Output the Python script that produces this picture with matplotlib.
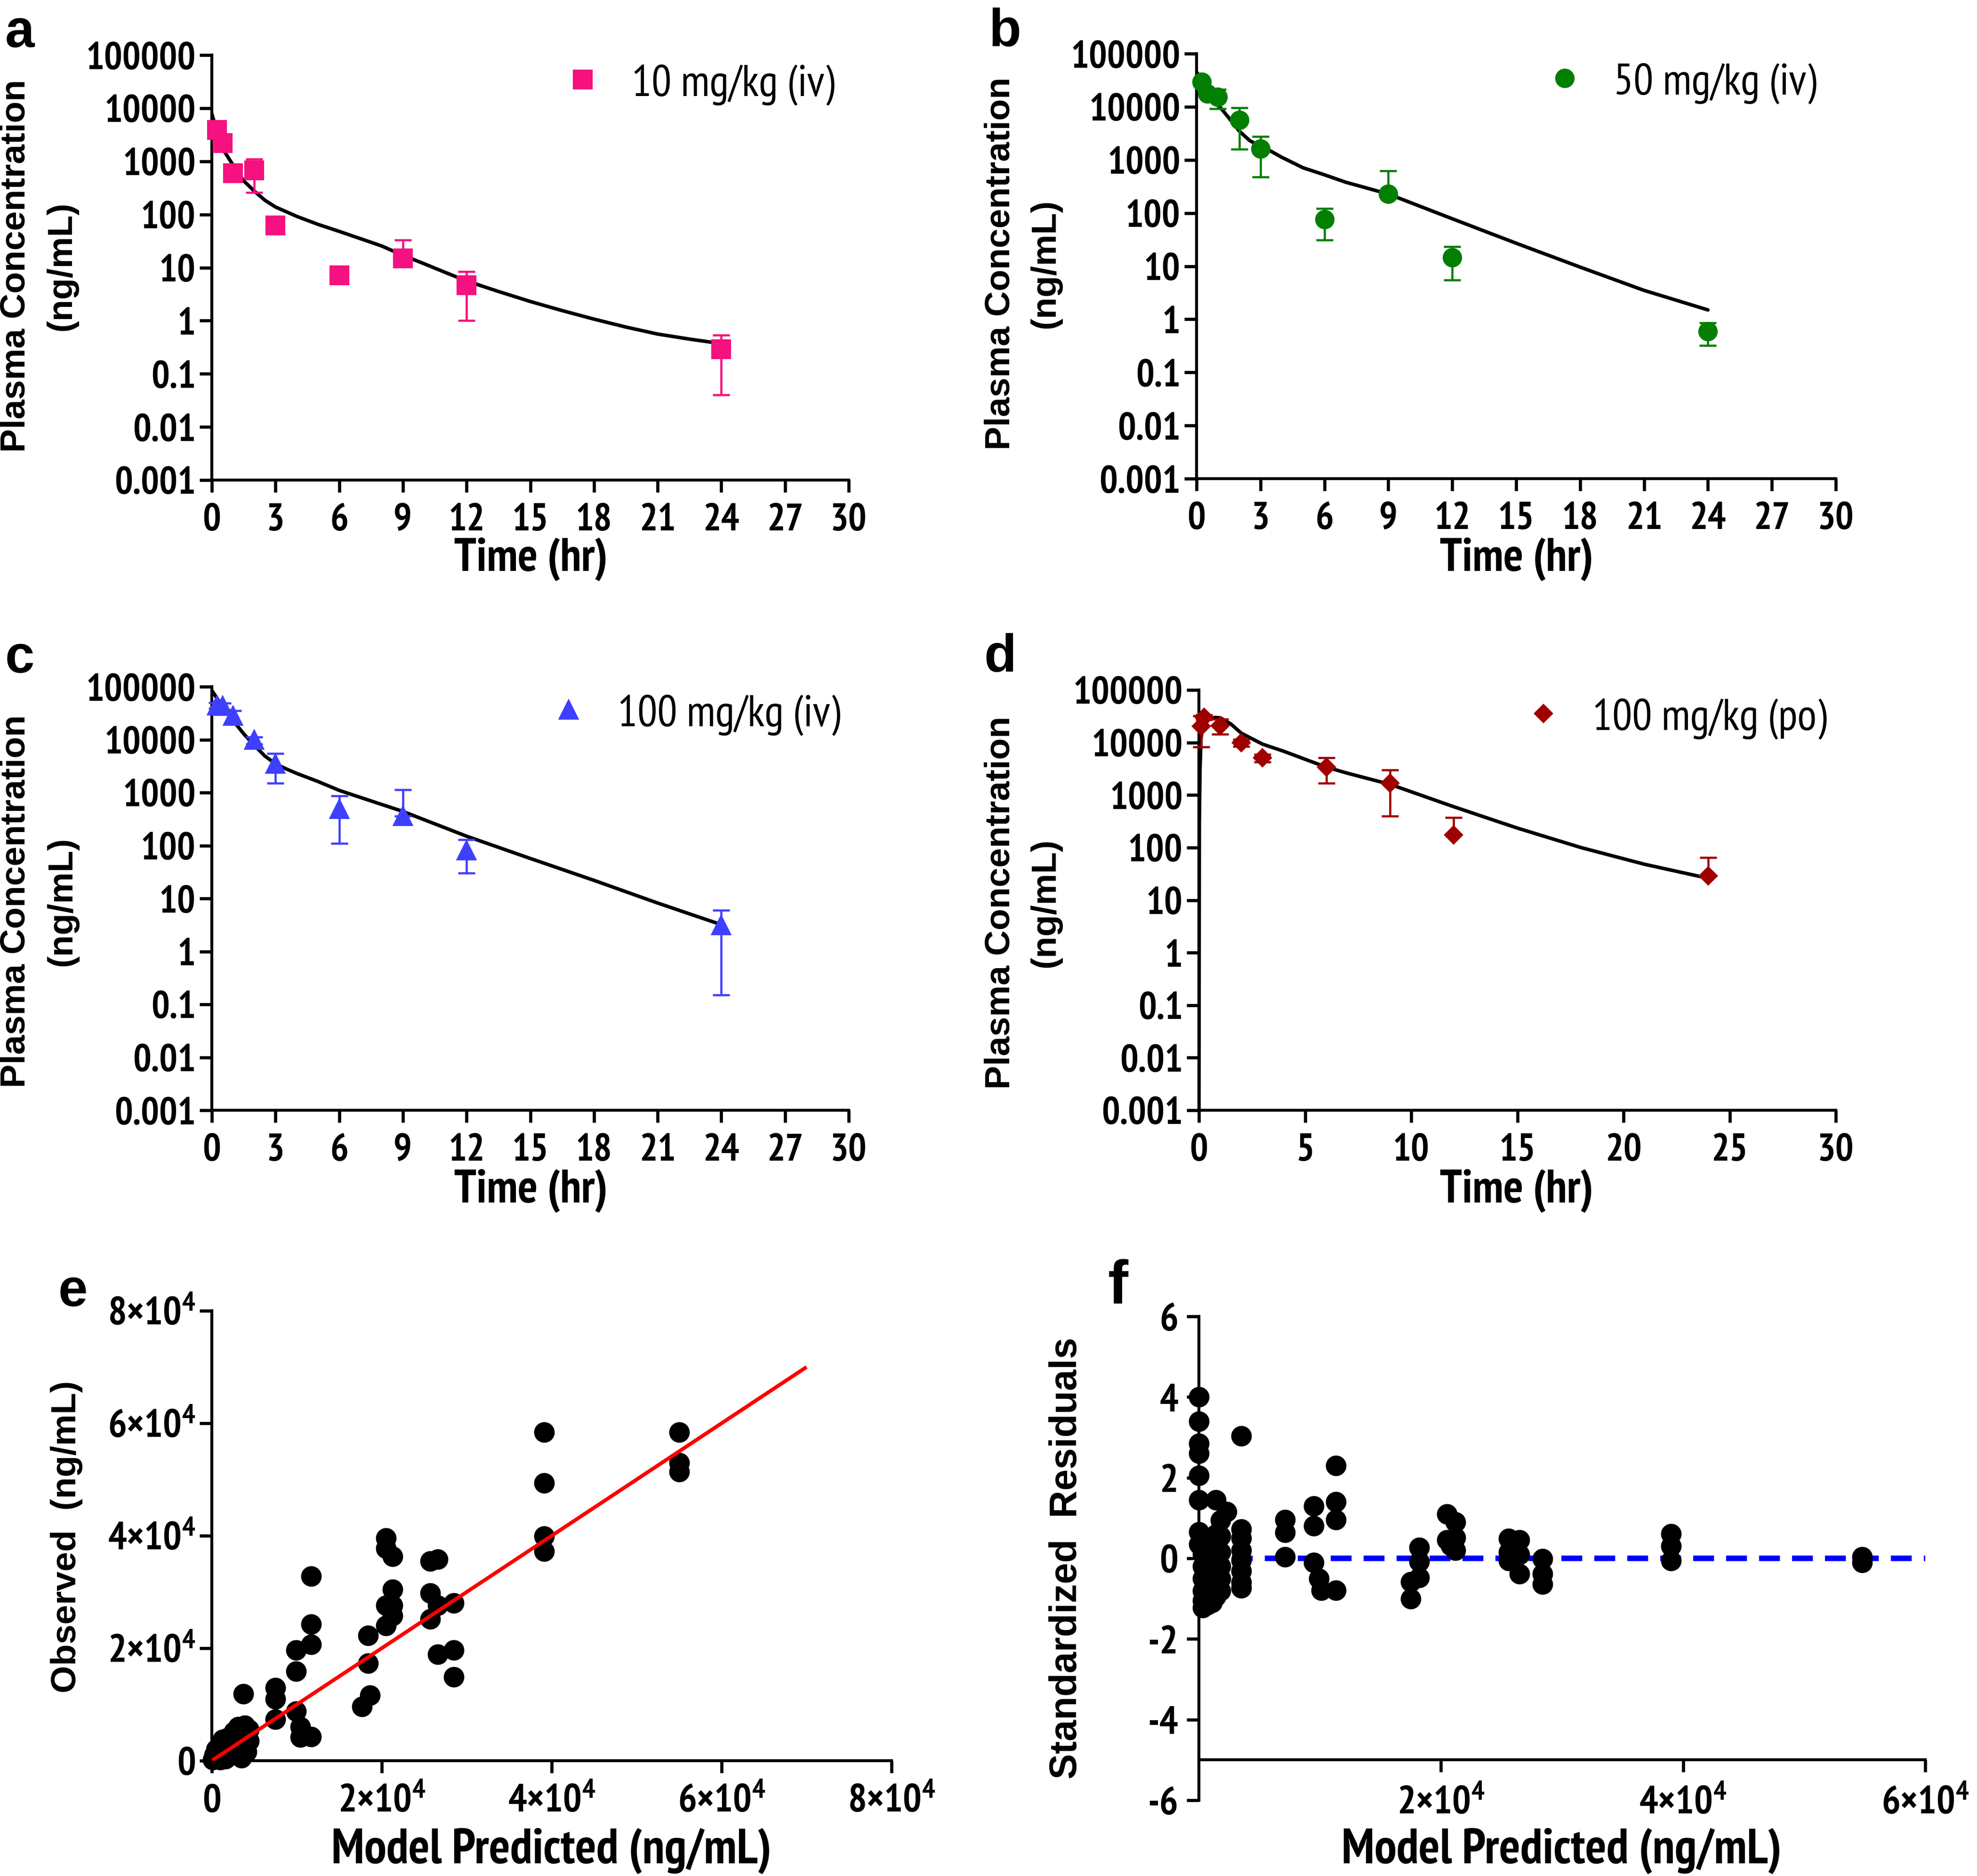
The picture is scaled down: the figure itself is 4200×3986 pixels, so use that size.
import numpy as np
import matplotlib
matplotlib.use("Agg")
import matplotlib.pyplot as plt
from matplotlib.lines import Line2D
from matplotlib.ticker import NullLocator
from matplotlib import font_manager as fm

# ---------------- data ----------------
# panel a : 10 mg/kg iv
t_a = [0.25, 0.5, 1, 2, 3, 6, 9, 12, 24]
c_a = [3900, 2200, 600, 680, 62, 7.2, 15, 4.7, 0.29]
sd_a = [600, 400, 90, 420, 10, 1.0, 18, 3.7, 0.25]
mt_a = [0, 0.25, 0.5, 1, 1.5, 2, 2.5, 3, 4, 5, 6, 7, 8, 9, 10, 11, 12, 13.5, 15, 16.5, 18, 19.5, 21, 22.5, 24]
mc_a = [7800, 3600, 1750, 850, 430, 275, 185, 138, 92, 65, 48, 35, 25.5, 17, 11.8, 8.1, 5.6, 3.55, 2.3, 1.55, 1.07, 0.76, 0.56, 0.45, 0.37]

# panel b : 50 mg/kg iv
t_b = [0.25, 0.5, 1, 2, 3, 6, 9, 12, 24]
c_b = [29600, 17800, 15200, 5600, 1630, 76, 228, 14.5, 0.59]
sd_b = [3000, 2500, 6100, 4000, 1150, 45, 400, 9, 0.27]
mt_b = [0, 0.25, 0.5, 1, 1.5, 2, 2.5, 3, 3.5, 4, 5, 6, 7, 9, 12, 15, 18, 21, 24]
mc_b = [45000, 33000, 22000, 11000, 6300, 3500, 2300, 1800, 1450, 1120, 710, 525, 380, 228, 78, 27, 9.6, 3.5, 1.5]

# panel c : 100 mg/kg iv
t_c = [0.25, 0.5, 1, 2, 3, 6, 9, 12, 24]
c_c = [44400, 43000, 28300, 9800, 3500, 490, 360, 80, 3.1]
sd_c = [5000, 6000, 7200, 1500, 2000, 380, 770, 50, 2.95]
mt_c = [0, 0.25, 0.5, 1, 1.5, 2, 2.5, 3, 3.5, 4, 5, 6, 7, 9, 12, 15, 18, 21, 24]
mc_c = [85000, 60000, 42000, 23000, 12900, 7800, 4900, 3500, 2800, 2300, 1620, 1100, 810, 440, 150, 57, 22, 8.2, 3.2]

# panel d : 100 mg/kg po
t_d = [0.1, 0.25, 1, 2, 3, 6, 9, 12, 24]
c_d = [20300, 30500, 21000, 10000, 5100, 3400, 1700, 175, 29]
sd_d = [12000, 3000, 6700, 1500, 800, 1700, 1300, 200, 36]
mt_d = [0, 0.02, 0.05, 0.1, 0.17, 0.25, 0.5, 0.75, 1, 1.5, 2, 2.5, 3, 4, 5, 6, 7, 9, 12, 15, 18, 21, 24]
mc_d = [0.001, 300, 3000, 12000, 19000, 23000, 28000, 30000, 29500, 22600, 15000, 11800, 9300, 6800, 4800, 3400, 2600, 1600, 600, 235, 100, 48, 26]

# panel e : observed vs predicted (x 1e4 ng/mL)
e_pred = [0.39, 0.26, 0.13, 0.39, 0.39, 0.41, 0.28, 0.16, 0.05, 0.01, 0.20, 0.31, 0.44, 0.44,
          0.08, 0.12, 0.22, 0.33, 0.03, 0.18, 0.35, 0.10,
          0.37, 0.75, 0.75, 0.75, 0.99, 0.99, 0.99, 1.04, 1.04,
          1.17, 1.17, 1.17, 1.17, 1.77, 1.84, 1.84, 1.86,
          2.05, 2.05, 2.05, 2.05, 2.13, 2.13, 2.13, 2.13,
          2.57, 2.57, 2.57, 2.66, 2.66, 2.66, 2.85, 2.85, 2.85,
          3.91, 3.91, 3.91, 3.91, 5.50, 5.50, 5.50]
e_obs = [0.63, 0.52, 0.38, 0.43, 0.24, 0.16, 0.10, 0.03, 0.20, 0.02, 0.27, 0.60, 0.35, 0.55,
         0.08, 0.12, 0.18, 0.30, 0.10, 0.40, 0.05, 0.02,
         1.19, 1.30, 1.10, 0.74, 1.97, 1.59, 0.88, 0.60, 0.42,
         3.28, 2.43, 2.07, 0.43, 0.96, 2.23, 1.73, 1.16,
         3.96, 3.77, 2.76, 2.40, 3.63, 3.05, 2.76, 2.58,
         3.55, 2.98, 2.52, 3.58, 2.76, 1.89, 2.80, 1.97, 1.49,
         5.84, 4.94, 3.99, 3.72, 5.84, 5.30, 5.14]
identity_x = [0, 7.0]
identity_y = [0, 7.0]

# panel f : standardized residuals vs predicted (x 1e4 ng/mL)
f_pred = [0.00] * 8 + [0.03] * 6 + [0.07] * 7 + [0.11] * 6 + [0.14] * 7 + [0.18] * 6 + [0.23] + [0.35] * 8 + \
         [0.71, 0.71, 0.71, 0.95, 0.95, 0.95, 0.99, 1.01, 1.13, 1.13, 1.13, 1.13,
          1.75, 1.75, 1.82, 1.82, 1.82, 2.05, 2.12, 2.05, 2.12, 2.12, 2.08,
          2.56, 2.65, 2.56, 2.65, 2.56, 2.65, 2.84, 2.84, 2.84, 3.90, 3.90, 3.90, 5.48, 5.48]
f_res = [4.0, 3.4, 2.85, 2.6, 2.05, 1.45, 0.65, 0.35,
         0.1, -0.2, -0.5, -0.8, -1.05, -1.22,
         0.5, 0.2, -0.15, -0.45, -0.75, -1.0, -1.15,
         0.35, 0.0, -0.3, -0.6, -0.9, -1.1,
         1.45, 0.6, 0.25, -0.1, -0.4, -0.7, -0.95,
         0.95, 0.55, 0.15, -0.2, -0.5, -0.8,
         1.15,
         3.03, 0.72, 0.5, 0.2, -0.05, -0.32, -0.6, -0.74,
         0.96, 0.64, 0.04, 1.29, 0.80, -0.11, -0.50, -0.79, 2.30, 1.40, 0.96, -0.79,
         -1.00, -0.58, -0.48, -0.08, 0.27, 1.10, 0.90, 0.46, 0.51, 0.20, 0.32,
         0.49, 0.46, 0.15, 0.09, -0.06, -0.38, -0.01, -0.38, -0.64, 0.61, 0.30, -0.06, 0.04, -0.11]
zero_x = [0, 6.0]
zero_y = [0, 0]

pk_yticks = [1e-3, 1e-2, 1e-1, 1, 10, 100, 1000, 10000, 100000]
pk_ylabels = ["0.001", "0.01", "0.1", "1", "10", "100", "1000", "10000", "100000"]
xt_iv = [0, 3, 6, 9, 12, 15, 18, 21, 24, 27, 30]
xt_po = [0, 5, 10, 15, 20, 25, 30]
e_ticks = [0, 2, 4, 6, 8]
f_xticks = [2, 4, 6]
f_yticks = [-6, -4, -2, 0, 2, 4, 6]

# ---------------- fonts ----------------
_installed = set(f.name for f in fm.fontManager.ttflist)
_cands = ['Liberation Sans Narrow', 'Arial Narrow', 'PT Sans Narrow', 'Roboto Condensed',
          'Archivo Narrow', 'Asap Condensed', 'Barlow Semi Condensed']
_narrow = next((c for c in _cands if c in _installed), None)
if _narrow is None:
    NARROW = ['Liberation Sans', 'DejaVu Sans']
    SZ = 0.85
else:
    NARROW = [_narrow, 'Liberation Sans', 'DejaVu Sans']
    SZ = 1.0
ARIAL = ['Liberation Sans', 'DejaVu Sans']
plt.rcParams['font.family'] = NARROW
plt.rcParams['mathtext.default'] = 'regular'
plt.rcParams['axes.linewidth'] = 1.5

PINK = '#F5117F'
GREEN = '#037F03'
BLUE = '#3F3FFF'
DRED = '#A00000'

W, H = 4200, 3987
fig = plt.figure(figsize=(W / 300, H / 300), dpi=300)
fig.patch.set_facecolor('white')


def box(l, t, r, b):
    return [l / W, 1 - b / H, (r - l) / W, (b - t) / H]


def fx(x):
    return x / W


def fy(y):
    return 1 - y / H


TICK_LEN = 6.2
TICK_W = 1.6
TICK_FS = 19.5 * SZ
E_FS = 20 * SZ


def clean(ax):
    for s in ['top', 'right']:
        ax.spines[s].set_visible(False)
    ax.tick_params(direction='out', length=TICK_LEN, width=TICK_W, colors='black')


def pk_axes(ax, xt):
    ax.set_yscale('log')
    ax.set_ylim(1e-3, 1e5)
    ax.set_xlim(0, 30)
    ax.set_yticks(pk_yticks)
    ax.set_yticklabels(pk_ylabels, fontsize=TICK_FS, fontweight='bold')
    ax.yaxis.set_minor_locator(NullLocator())
    ax.set_xticks(xt)
    ax.set_xticklabels([str(v) for v in xt], fontsize=TICK_FS, fontweight='bold')
    clean(ax)
    ax.tick_params(axis='y', pad=2)
    ax.tick_params(axis='x', pad=5.5)


def pk_data(ax, t, c, sd, mt, mc, marker, color, ms):
    t = np.asarray(t, float)
    c = np.asarray(c, float)
    sd = np.asarray(sd, float)
    lo = np.where(c - sd > 0, sd, 0.0)
    ax.plot(mt, mc, color='black', lw=1.8, zorder=2, solid_capstyle='round')
    ax.errorbar(t, c, yerr=[lo, sd], fmt='none', ecolor=color, elinewidth=1.1,
                capsize=4.3, capthick=1.1, zorder=3, clip_on=False)
    ax.plot(t, c, ls='none', marker=marker, color=color, mec=color, ms=ms,
            zorder=4, clip_on=False)


def legend_at(ax, marker, color, ms, label, mx, my):
    fs = 22.5 * SZ
    fs_px = fs / 72 * 300
    hl = 1.0
    gap = 104  # px from marker centre to text start
    h = Line2D([], [], ls='none', marker=marker, color=color, mec=color, ms=ms)
    ax.legend([h], [label], loc='center left',
              bbox_to_anchor=(fx(mx - hl * fs_px / 2), fy(my)),
              bbox_transform=fig.transFigure, frameon=False, handlelength=hl,
              handletextpad=(gap - hl * fs_px / 2) / fs_px, borderpad=0, borderaxespad=0,
              numpoints=1, prop={'family': NARROW, 'size': fs, 'weight': 'normal'})


def ylab2(x1, x2, yc):
    fig.text(fx(x1), fy(yc), "Plasma Concentration", rotation=90, ha='center', va='center',
             family=ARIAL, fontweight='bold', fontsize=18)
    fig.text(fx(x2), fy(yc), "(ng/mL)", rotation=90, ha='center', va='center',
             family=ARIAL, fontweight='bold', fontsize=18)


def xlab(x, y, s, fs=23.8):
    fig.text(fx(x), fy(y), s, ha='center', va='center', family=NARROW,
             fontweight='bold', fontsize=fs * SZ)


def letter(x, y, s, fs=27):
    fig.text(fx(x), fy(y), s, ha='center', va='baseline', family=ARIAL,
             fontweight='bold', fontsize=fs)


# ---------------- panel a ----------------
ax_a = fig.add_axes(box(450, 118, 1803, 1021))
pk_axes(ax_a, xt_iv)
pk_data(ax_a, t_a, c_a, sd_a, mt_a, mc_a, 's', PINK, 8.9)
legend_at(ax_a, 's', PINK, 8.9, "10 mg/kg (iv)", 1238, 180)

# ---------------- panel b ----------------
ax_b = fig.add_axes(box(2542, 115, 3900, 1018))
pk_axes(ax_b, xt_iv)
pk_data(ax_b, t_b, c_b, sd_b, mt_b, mc_b, 'o', GREEN, 8.9)
legend_at(ax_b, 'o', GREEN, 8.9, "50 mg/kg (iv)", 3324, 177)

# ---------------- panel c ----------------
ax_c = fig.add_axes(box(450, 1460, 1803, 2360))
pk_axes(ax_c, xt_iv)
pk_data(ax_c, t_c, c_c, sd_c, mt_c, mc_c, '^', BLUE, 8.9)
legend_at(ax_c, '^', BLUE, 8.9, "100 mg/kg (iv)", 1208, 1519)

# ---------------- panel d ----------------
ax_d = fig.add_axes(box(2547, 1467, 3900, 2360))
pk_axes(ax_d, xt_po)
pk_data(ax_d, t_d, c_d, sd_d, mt_d, mc_d, 'D', DRED, 6.2)
legend_at(ax_d, 'D', DRED, 6.2, "100 mg/kg (po)", 3279, 1527)

ylab2(33, 131, 565)
ylab2(2125, 2221, 560)
ylab2(33, 132, 1915)
ylab2(2125, 2221, 1918)
xlab(1128, 1188, "Time (hr)")
xlab(3222, 1188, "Time (hr)")
xlab(1128, 2530, "Time (hr)")
xlab(3222, 2530, "Time (hr)")

# ---------------- panel e ----------------
SCALE = 1e4
ax_e = fig.add_axes(box(450, 2786, 1894, 3742))
ax_e.set_xlim(0, 8 * SCALE)
ax_e.set_ylim(0, 8 * SCALE)
ax_e.plot(np.asarray(e_pred) * SCALE, np.asarray(e_obs) * SCALE, ls='none', marker='o',
          color='black', ms=9.5, zorder=3, clip_on=False)
ax_e.plot(np.asarray(identity_x) * SCALE, np.asarray(identity_y) * SCALE, color='#FF0000',
          lw=1.9, zorder=4, solid_capstyle='butt')
e_lab = ["0" if v == 0 else r"%d×10$^{4}$" % v for v in e_ticks]
ax_e.set_xticks([v * SCALE for v in e_ticks])
ax_e.set_xticklabels(e_lab, fontsize=E_FS, fontweight='bold')
ax_e.set_yticks([v * SCALE for v in e_ticks])
ax_e.set_yticklabels(e_lab, fontsize=E_FS, fontweight='bold')
clean(ax_e)
ax_e.tick_params(axis='y', pad=2)
ax_e.tick_params(axis='x', pad=5.5)
fig.text(fx(142), fy(3265), "Observed  (ng/mL)", rotation=90, ha='center', va='center',
         family=ARIAL, fontweight='bold', fontsize=18)
xlab(1172, 3933, "Model Predicted (ng/mL)", fs=25.3)

# ---------------- panel f ----------------
ax_f = fig.add_axes(box(2547, 2798, 4090, 3826))
ax_f.set_xlim(0, 6 * SCALE)
ax_f.set_ylim(-6, 6)
ax_f.plot(np.asarray(zero_x) * SCALE, zero_y, color='#0000FF', lw=2.8,
          dashes=(3.8, 2.2), zorder=2, dash_capstyle='butt')
ax_f.plot(np.asarray(f_pred) * SCALE, f_res, ls='none', marker='o', color='black',
          ms=9.5, zorder=3, clip_on=False)
ax_f.spines['bottom'].set_position(('data', -5))
ax_f.set_xticks([v * SCALE for v in f_xticks])
ax_f.set_xticklabels([r"%d×10$^{4}$" % v for v in f_xticks], fontsize=E_FS, fontweight='bold')
ax_f.set_yticks(f_yticks)
ax_f.set_yticklabels([str(v) for v in f_yticks], fontsize=E_FS, fontweight='bold')
clean(ax_f)
ax_f.tick_params(axis='y', pad=4.3)
ax_f.tick_params(axis='x', pad=7)
fig.text(fx(2266), fy(3311), "Standardized  Residuals", rotation=90, ha='center', va='center',
         family=ARIAL, fontweight='bold', fontsize=19.5)
xlab(3317, 3933, "Model Predicted (ng/mL)", fs=25.3)

# ---------------- panel letters ----------------
letter(42, 100, "a")
letter(2135, 98, "b")
letter(42, 1429, "c")
letter(2125, 1427, "d")
letter(155, 2775, "e")
letter(2375, 2768, "f", fs=31)

fig.savefig("out.png", dpi=300, facecolor='white')
